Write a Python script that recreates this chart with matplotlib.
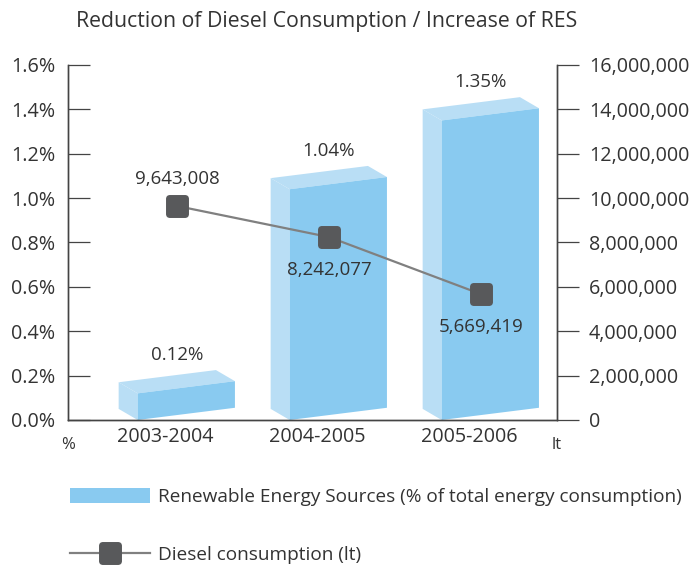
import matplotlib.pyplot as plt
from matplotlib.patches import Polygon, Patch
from matplotlib.lines import Line2D
from matplotlib.markers import MarkerStyle
from matplotlib.ticker import FuncFormatter

plt.rcParams['font.family'] = ['Open Sans', 'DejaVu Sans']

periods = ['2003-2004', '2004-2005', '2005-2006']
res_share = [0.12, 1.04, 1.35]          # % of total energy consumption
diesel_lt = [9643008, 8242077, 5669419]  # litres
res_labels = ['0.12%', '1.04%', '1.35%']
diesel_labels = ['9,643,008', '8,242,077', '5,669,419']

text_col = '#333333'
front_col = '#89caf0'
side_col = '#b9def5'
marker_col = '#58595b'
fs = 14.2

fig = plt.figure(figsize=(6.97, 5.69), dpi=100)
ax = fig.add_axes([0.0976, 0.2619, 0.7016, 0.6239])
ax2 = ax.twinx()

ax.set_xlim(-0.638, 2.579)
ax.set_ylim(0, 1.6)
ax2.set_ylim(0, 16000000)

# pseudo-3D bars
half_w = 0.32
shift = 0.14
depth_x = 0.125
depth_y = 0.05
slant = 0.055
for i, h in enumerate(res_share):
    xl = i + shift - half_w
    xr = i + shift + half_w
    front = [(xl, 0), (xr, slant), (xr, h + slant), (xl, h)]
    side = [(xl - depth_x, depth_y), (xl, 0), (xl, h), (xl - depth_x, h + depth_y)]
    top = [(xl - depth_x, h + depth_y), (xl, h), (xr, h + slant), (xr - depth_x, h + slant + depth_y)]
    ax.add_patch(Polygon(side, closed=True, facecolor=side_col, edgecolor='none', clip_on=False))
    ax.add_patch(Polygon(top, closed=True, facecolor=side_col, edgecolor='none', clip_on=False))
    ax.add_patch(Polygon(front, closed=True, facecolor=front_col, edgecolor='none', clip_on=False))
    ax.annotate(res_labels[i], (i + shift - depth_x / 2, h + slant / 2 + depth_y),
                xytext=(0, 9), textcoords='offset points', ha='center', va='bottom',
                fontsize=fs - 0.7, color=text_col)

# diesel line
mk = MarkerStyle('s', joinstyle='round')
xs = [i + 0.08 for i in range(len(diesel_lt))]
ax2.plot(xs, diesel_lt, color='#808080', lw=1.6, marker=mk, markersize=11.5,
         markerfacecolor=marker_col, markeredgecolor=marker_col, markeredgewidth=5, zorder=5)
offsets = [13, -17, -17]
for i, v in enumerate(diesel_lt):
    ax2.annotate(diesel_labels[i], (xs[i], v), xytext=(0, offsets[i]), textcoords='offset points',
                 ha='center', va='bottom' if offsets[i] > 0 else 'top', fontsize=fs - 0.7, color=text_col)

# axes styling
ax.set_xticks(range(len(periods)))
ax.set_xticklabels(periods)
ax.tick_params(axis='x', length=0, pad=5, labelsize=fs, labelcolor=text_col)
ax.set_yticks([0, 0.2, 0.4, 0.6, 0.8, 1.0, 1.2, 1.4, 1.6])
ax.yaxis.set_major_formatter(FuncFormatter(lambda v, p: f'{v:.1f}%'))
ax.tick_params(axis='y', direction='in', length=16, width=0.9, color='#444444', pad=9,
               labelsize=fs, labelcolor=text_col)
ax2.set_yticks(range(0, 16000001, 2000000))
ax2.yaxis.set_major_formatter(FuncFormatter(lambda v, p: f'{int(v):,}'))
ax2.tick_params(axis='y', direction='out', length=16, width=0.9, color='#444444', pad=7,
                labelsize=fs, labelcolor=text_col)

for a in (ax, ax2):
    a.spines['top'].set_visible(False)
    for s in ('left', 'right', 'bottom'):
        a.spines[s].set_color('#444444')
        a.spines[s].set_linewidth(1.0)

ax.text(0, -0.07, '%', transform=ax.transAxes, ha='center', va='center', fontsize=12, color=text_col)
ax.text(1, -0.07, 'lt', transform=ax.transAxes, ha='center', va='center', fontsize=12, color=text_col)

fig.text(0.468, 0.963, 'Reduction of Diesel Consumption / Increase of RES', ha='center', va='center',
         fontsize=15.3, color=text_col)

# legend
handles = [Patch(facecolor=front_col, edgecolor='none'),
           Line2D([], [], color='#808080', lw=1.6, marker=mk, markersize=11.5,
                  markerfacecolor=marker_col, markeredgecolor=marker_col, markeredgewidth=5)]
fig.legend(handles, ['Renewable Energy Sources (% of total energy consumption)', 'Diesel consumption (lt)'],
           loc='upper left', bbox_to_anchor=(0.1, 0.143), frameon=False, fontsize=13.7,
           handlelength=4.2, handleheight=0.85, handletextpad=0.45, labelspacing=2.1, labelcolor=text_col,
           borderpad=0, borderaxespad=0)

fig.savefig('out.png', dpi=100)
